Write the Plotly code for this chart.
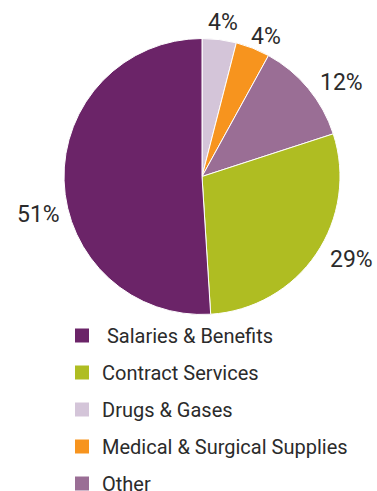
import plotly.graph_objects as go

# Data
labels = ["Salaries & Benefits", "Contract Services", "Drugs & Gases",
          "Medical & Surgical Supplies", "Other"]
values = [51, 29, 4, 4, 12]
colors = ["#6B2468", "#AFBD22", "#D4C5D9", "#F7941E", "#9A6E95"]
# Pie drawing order (clockwise from 12 o'clock)
pie_order = [2, 3, 4, 1, 0]
# Percent label anchor positions (pixel x, y) in the 377x491 canvas
label_pos = {0: (38, 215), 1: (351, 259), 2: (223, 23), 3: (266, 36), 4: (341, 82)}

W, H = 377, 491
FONT = "Roboto, Liberation Sans, Arial, sans-serif"
TXT = "#2b2b2b"

cx, cy, r = 202, 176.5, 138

fig = go.Figure()
fig.add_trace(go.Pie(
    labels=[labels[i] for i in pie_order],
    values=[values[i] for i in pie_order],
    marker=dict(colors=[colors[i] for i in pie_order], line=dict(color="white", width=1)),
    sort=False, direction="clockwise", rotation=0,
    textinfo="none", hoverinfo="label+percent",
    showlegend=False,
    domain=dict(x=[(cx - r) / W, (cx + r) / W], y=[1 - (cy + r) / H, 1 - (cy - r) / H]),
))

# Legend entries (in legend order)
for i, lab in enumerate(labels):
    name = (" " + lab) if i == 0 else lab
    fig.add_trace(go.Scatter(
        x=[None], y=[None], mode="markers", name=name,
        legendgroup=lab,
        marker=dict(symbol="square", size=14, color=colors[i]),
        hoverinfo="skip",
    ))

for i, v in enumerate(values):
    px, py = label_pos[i]
    fig.add_annotation(
        x=px / W, y=1 - py / H, xref="paper", yref="paper",
        text=f"{v}%", showarrow=False, xanchor="center", yanchor="middle",
        font=dict(family=FONT, size=23, color=TXT),
    )

fig.update_layout(
    width=W, height=H,
    margin=dict(l=0, r=0, t=0, b=0, autoexpand=False),
    paper_bgcolor="white", plot_bgcolor="white",
    xaxis=dict(visible=False), yaxis=dict(visible=False),
    legend=dict(
        x=62 / W, y=1 - 316 / H, xanchor="left", yanchor="top",
        traceorder="grouped", tracegroupgap=8,
        font=dict(family=FONT, size=20, color=TXT),
        bgcolor="rgba(0,0,0,0)",
    ),
)

fig.write_html("out.html")
